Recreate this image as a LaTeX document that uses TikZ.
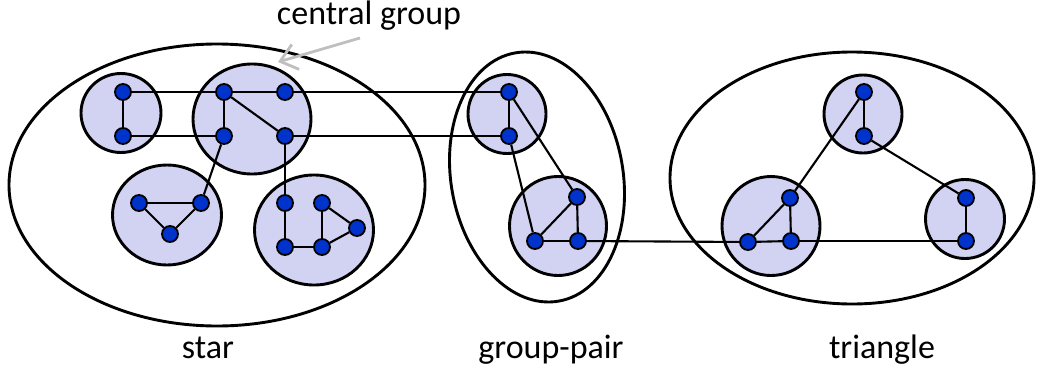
\documentclass[tikz,border=0pt]{standalone}
\usepackage{fontspec}
\setmainfont{Carlito}
\usetikzlibrary{shapes.geometric,arrows.meta}
\definecolor{grpfill}{RGB}{210,210,243}
\definecolor{vblue}{RGB}{0,51,204}
\definecolor{arrgray}{RGB}{191,191,191}
\tikzset{
  bigell/.style={ellipse, draw=black, line width=2.9pt, inner sep=0pt},
  grp/.style={ellipse, draw=black, fill=grpfill, line width=2.9pt, inner sep=0pt},
  vert/.style={circle, draw=black, fill=vblue, line width=1.8pt, inner sep=0pt, minimum size=16pt},
  edge/.style={line width=2.1pt, black},
  lbl/.style={font=\fontsize{34}{38}\selectfont, inner sep=0pt, anchor=base}
}
\begin{document}
\begin{tikzpicture}[x=1pt,y=-1pt]
\useasboundingbox (0,0) rectangle (1038,372);
% big ellipses
\node[bigell, minimum width=416pt, minimum height=282pt] (star) at (217,185) {};
\node[bigell, minimum width=172pt, minimum height=252pt, rotate=10] (pair) at (537,177) {};
\node[bigell, minimum width=364pt, minimum height=252pt] (tri) at (852,178) {};
% groups
\node[grp, minimum width=80pt, minimum height=79pt] (gA) at (121,113) {};
\node[grp, minimum width=118pt, minimum height=110pt] (gC) at (252,119) {};
\node[grp, minimum width=109pt, minimum height=100pt] (gT) at (167,215) {};
\node[grp, minimum width=119pt, minimum height=110pt] (gB) at (314,230) {};
\node[grp, minimum width=78pt, minimum height=79pt] (gP) at (507,114) {};
\node[grp, minimum width=97pt, minimum height=99pt] (gQ) at (558,226) {};
\node[grp, minimum width=78pt, minimum height=78pt] (gU) at (863,114) {};
\node[grp, minimum width=98pt, minimum height=99pt] (gR) at (771,226) {};
\node[grp, minimum width=79pt, minimum height=79pt] (gS) at (965,219) {};
% vertices
\node[vert] (A1) at (123,92) {};
\node[vert] (A2) at (123,136) {};
\node[vert] (C1) at (224,92) {};
\node[vert] (C2) at (285,92) {};
\node[vert] (C3) at (224,136) {};
\node[vert] (C4) at (285,136) {};
\node[vert] (T1) at (139,203) {};
\node[vert] (T2) at (201,203) {};
\node[vert] (T3) at (170,234) {};
\node[vert] (B1) at (285,203) {};
\node[vert] (B2) at (322,203) {};
\node[vert] (B3) at (357,228) {};
\node[vert] (B4) at (285,247) {};
\node[vert] (B5) at (322,247) {};
\node[vert] (P1) at (509,92) {};
\node[vert] (P2) at (509,136) {};
\node[vert] (Q1) at (577,197) {};
\node[vert] (Q2) at (535,241) {};
\node[vert] (Q3) at (578,241) {};
\node[vert] (U1) at (864,92) {};
\node[vert] (U2) at (864,136) {};
\node[vert] (R1) at (748,242) {};
\node[vert] (R2) at (791,241) {};
\node[vert] (R3) at (790,198) {};
\node[vert] (S1) at (966,198) {};
\node[vert] (S2) at (966,241) {};
% edges
\draw[edge] (A1) -- (A2);
\draw[edge] (A1) -- (C1);
\draw[edge] (C1) -- (C2);
\draw[edge] (C2) -- (P1);
\draw[edge] (A2) -- (C3);
\draw[edge] (C4) -- (P2);
\draw[edge] (C1) -- (C3);
\draw[edge] (C1) -- (C4);
\draw[edge] (C3) -- (T2);
\draw[edge] (C4) -- (B1);
\draw[edge] (T1) -- (T2);
\draw[edge] (T1) -- (T3);
\draw[edge] (T2) -- (T3);
\draw[edge] (B1) -- (B4);
\draw[edge] (B4) -- (B5);
\draw[edge] (B2) -- (B5);
\draw[edge] (B2) -- (B3);
\draw[edge] (B3) -- (B5);
\draw[edge] (P1) -- (P2);
\draw[edge] (P1) -- (Q1);
\draw[edge] (P2) -- (Q2);
\draw[edge] (Q1) -- (Q2);
\draw[edge] (Q1) -- (Q3);
\draw[edge] (Q2) -- (Q3);
\draw[edge] (Q3) -- (R1);
\draw[edge] (R1) -- (R2);
\draw[edge] (R1) -- (R3);
\draw[edge] (R2) -- (R3);
\draw[edge] (R2) -- (S2);
\draw[edge] (U1) -- (U2);
\draw[edge] (U1) -- (R3);
\draw[edge] (U2) -- (S1);
\draw[edge] (S1) -- (S2);
% labels
\node[lbl] (lc) at (369,24) {central group};
\node[lbl] (ls) at (208,358) {star};
\node[lbl] (lp) at (551,358) {group-pair};
\node[lbl] (lt) at (882,358) {triangle};
\coordinate (arS) at (360,38);
\coordinate (arE) at (278,62);
\draw[arrgray, line width=2.8pt, -{Straight Barb[length=16pt,width=26pt]}] (arS) -- (arE);
\end{tikzpicture}
\end{document}
